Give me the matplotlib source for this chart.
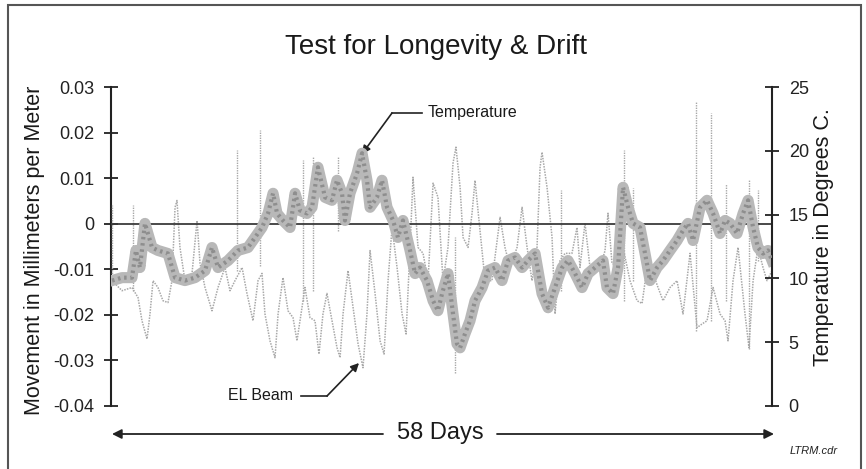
import matplotlib
matplotlib.use("Agg")
import matplotlib.pyplot as plt
from matplotlib.patches import Rectangle

# ---------------- data ----------------
temp_days = [0.09, 0.97, 1.84, 2.19, 2.54, 2.98, 3.60, 4.12, 5.00, 5.62, 6.49, 7.37, 8.25, 8.86,
             9.39, 10.27, 11.14, 12.02, 12.64, 13.25, 13.78, 14.22, 14.57, 15.09, 15.71, 16.15,
             16.58, 17.20, 17.64, 18.16, 18.78, 19.39, 19.83, 20.27, 20.53, 20.97, 21.59, 22.03,
             22.46, 22.73, 23.34, 23.78, 24.22, 24.75, 25.18, 25.62, 26.24, 26.68, 27.11, 27.73,
             28.26, 28.69, 29.05, 29.57, 30.01, 30.36, 30.63, 31.06, 31.50, 31.94, 32.56, 33.08,
             33.70, 34.31, 34.84, 35.45, 36.07, 36.59, 37.21, 37.82, 38.35, 38.96, 39.58, 40.10,
             40.72, 41.33, 41.86, 42.47, 43.17, 43.52, 44.05, 44.49, 44.93, 45.37, 45.81, 46.42,
             46.86, 47.30, 47.91, 48.44, 49.05, 49.67, 50.19, 50.63, 51.07, 51.69, 52.30, 52.83,
             53.44, 53.88, 54.32, 54.93, 55.46, 55.90, 56.34, 56.77, 57.21, 57.65, 58.00]
temp_vals = [9.83, 10.06, 10.06, 12.19, 10.85, 14.31, 12.42, 12.19, 11.95, 10.06, 9.83, 10.06, 10.61, 12.42,
             10.85, 11.40, 12.19, 12.42, 13.21, 13.99, 15.09, 16.67, 15.09, 14.54, 13.99, 16.67,
             15.33, 15.09, 15.57, 18.71, 16.35, 16.12, 17.69, 16.67, 14.54, 16.67, 18.24, 19.81,
             17.69, 15.57, 16.35, 17.69, 15.57, 14.54, 13.21, 14.54, 12.19, 10.38, 10.85, 9.83,
             8.25, 7.47, 8.81, 10.38, 7.23, 4.87, 4.56, 5.66, 6.68, 8.25, 9.28, 10.61,
             10.85, 9.83, 11.40, 11.64, 10.85, 11.40, 11.95, 8.81, 7.70, 9.28, 10.85, 11.40,
             10.38, 9.28, 10.38, 10.85, 11.40, 9.28, 8.81, 10.85, 17.14, 15.57, 14.31, 13.99,
             11.95, 9.83, 10.85, 11.40, 12.19, 12.97, 13.76, 14.31, 12.97, 15.57, 16.12, 15.09,
             13.52, 14.54, 14.31, 13.52, 15.09, 16.12, 13.99, 12.42, 11.95, 12.19, 11.40]

beam_days = [0.09, 0.97, 1.84, 2.37, 2.72, 3.16, 3.42, 3.69, 4.12, 4.56, 5.00, 5.35, 5.62, 5.79,
             6.05, 6.49, 7.11, 7.55, 7.81, 8.25, 8.86, 9.39, 10.00, 10.44, 10.88, 11.50, 11.93,
             12.46, 12.90, 13.25, 13.51, 13.95, 14.39, 14.66, 15.09, 15.53, 15.97, 16.32, 16.76,
             17.02, 17.46, 17.90, 18.25, 18.60, 18.95, 19.39, 19.83, 20.10, 20.36, 20.80, 21.24,
             21.68, 22.11, 22.46, 22.73, 23.17, 23.61, 23.96, 24.31, 24.66, 25.10, 25.54, 25.89,
             26.24, 26.50, 26.94, 27.38, 27.82, 28.26, 28.69, 29.13, 29.57, 30.01, 30.27, 30.63,
             30.89, 31.33, 31.68, 31.94, 32.38, 32.82, 33.43, 34.14, 34.57, 35.01, 35.63, 36.07,
             36.51, 36.94, 37.38, 37.65, 37.82, 38.26, 38.70, 38.96, 39.40, 39.84, 40.45, 40.89,
             41.15, 41.59, 42.03, 42.47, 42.91, 43.35, 43.61, 43.96, 44.40, 44.93, 45.54, 46.16,
             46.60, 47.04, 47.56, 48.00, 48.44, 49.05, 49.67, 50.19, 50.81, 51.42, 51.86, 52.30,
             52.83, 53.44, 53.88, 54.14, 54.58, 55.02, 55.63, 55.98, 56.34, 56.77, 57.21, 57.56, 58.00]
beam_vals = [-0.0125, -0.0147, -0.0140, -0.0162, -0.0213, -0.0253, -0.0198, -0.0125, -0.0140, -0.0169,
             -0.0173, -0.0125, 0.0036, 0.0051, -0.0052, -0.0125, -0.0109, 0.0007, -0.0087, -0.0140,
             -0.0191, -0.0140, -0.0096, -0.0147, -0.0125, -0.0096, -0.0153, -0.0213, -0.0125, -0.0109,
             -0.0198, -0.0257, -0.0294, -0.0198, -0.0118, -0.0191, -0.0206, -0.0257, -0.0184, -0.0140,
             -0.0206, -0.0213, -0.0286, -0.0198, -0.0153, -0.0213, -0.0272, -0.0294, -0.0198, -0.0103,
             -0.0184, -0.0264, -0.0316, -0.0198, -0.0059, -0.0153, -0.0257, -0.0286, -0.0125, -0.0008,
             -0.0096, -0.0198, -0.0242, -0.0052, 0.0102, -0.0052, -0.0065, -0.0125, 0.0089, 0.0058,
             -0.0125, -0.0052, 0.0133, 0.0168, 0.0080, -0.0030, -0.0052, 0.0023, 0.0095, -0.0015,
             -0.0125, -0.0125, 0.0014, -0.0052, -0.0096, -0.0052, 0.0036, -0.0052, -0.0125, -0.0052,
             0.0124, 0.0157, 0.0080, -0.0030, -0.0198, -0.0081, -0.0065, -0.0065, -0.0008, -0.0096,
             0.0001, -0.0096, -0.0096, -0.0096, -0.0059, 0.0023, -0.0087, -0.0092, -0.0052, -0.0125,
             -0.0169, -0.0175, -0.0096, -0.0109, -0.0140, -0.0169, -0.0140, -0.0125, -0.0198, -0.0065,
             -0.0228, -0.0220, -0.0213, -0.0140, -0.0198, -0.0213, -0.0257, -0.0125, -0.0052, -0.0198,
             -0.0272, -0.0125, -0.0052, -0.0096, -0.0125, -0.0103]

spike_days = [0.09, 1.93, 11.06, 13.07, 16.85, 17.73, 19.92, 30.19, 39.49, 45.02, 45.81, 51.33, 52.65,
              53.97, 55.98, 56.77]
spike_lo = [-0.0125, -0.0147, -0.0103, -0.0092, -0.0169, -0.0147, -0.0015, -0.0327, -0.0147, -0.0169,
            -0.0125, -0.0235, -0.0213, -0.0169, -0.0275, -0.0081]
spike_hi = [0.0040, 0.0040, 0.0161, 0.0205, 0.0139, 0.0146, 0.0146, -0.0030, 0.0073, 0.0161, 0.0078,
            0.0267, 0.0243, 0.0088, 0.0095, 0.0073]

left_ticks = [0.03, 0.02, 0.01, 0.0, -0.01, -0.02, -0.03, -0.04]
left_labels = ["0.03", "0.02", "0.01", "0", "-0.01", "-0.02", "-0.03", "-0.04"]
right_ticks = [25, 20, 15, 10, 5, 0]
right_labels = ["25", "20", "15", "10", "5", "0"]

# ---------------- figure ----------------
W, H = 866, 469
fig = plt.figure(figsize=(W / 100, H / 100), dpi=100)
fig.patch.set_facecolor("white")

narrow = ["Liberation Sans Narrow", "Liberation Sans", "DejaVu Sans"]
sans = ["Liberation Sans", "DejaVu Sans"]

ax_l, ax_r, ax_t, ax_b = 111, 772, 87, 406
ax = fig.add_axes([ax_l / W, 1 - ax_b / H, (ax_r - ax_l) / W, (ax_b - ax_t) / H])
ax.patch.set_alpha(0)
ax2 = ax.twinx()

ax.set_xlim(0, 58)
ax.set_ylim(-0.04, 0.03)
ax2.set_ylim(0, 25)

# series
ax2.plot(temp_days, temp_vals, color="#b8b8b8", lw=8, solid_joinstyle="round", zorder=2)
ax2.plot(temp_days, temp_vals, color="#8e8e8e", lw=3, ls=(0, (0.6, 0.9)), zorder=3)
ax.plot(beam_days, beam_vals, color="#a8a8a8", lw=1.1, ls=(0, (1, 0.8)), zorder=3)
ax.vlines(spike_days, spike_lo, spike_hi, color="#a8a8a8", lw=1.0, linestyles=(0, (1, 0.8)), zorder=3)
ax.axhline(0, color="#3a3a3a", lw=1.3, zorder=4)

# spines
for a in (ax, ax2):
    for s in ("top", "bottom"):
        a.spines[s].set_visible(False)
ax.spines["right"].set_visible(False)
ax2.spines["left"].set_visible(False)
ax.spines["left"].set_linewidth(1.5)
ax.spines["left"].set_color("#222222")
ax2.spines["right"].set_linewidth(1.5)
ax2.spines["right"].set_color("#222222")

ax.set_xticks([])
ax.set_yticks(left_ticks)
ax.set_yticklabels(left_labels, family=narrow, fontsize=13, color="#222222")
ax.tick_params(axis="y", direction="inout", length=10, width=1.3, color="#222222", pad=7)
ax2.set_yticks(right_ticks)
ax2.set_yticklabels(right_labels, family=narrow, fontsize=13, color="#222222")
ax2.tick_params(axis="y", direction="inout", length=10, width=1.3, color="#222222", pad=7)

# labels
fig.text(35 / W, 1 - 250 / H, "Movement in Millimeters per Meter", rotation=90,
         ha="center", va="center", fontsize=15.5, family=sans, color="#1a1a1a")
fig.text(824 / W, 1 - 237 / H, "Temperature in Degrees C.", rotation=90,
         ha="center", va="center", fontsize=15.5, family=sans, color="#1a1a1a")
fig.text(436 / W, 1 - 47 / H, "Test for Longevity & Drift", ha="center", va="center",
         fontsize=20, family=sans, color="#1a1a1a")

# annotations
fig.text(428 / W, 1 - 112 / H, "Temperature", ha="left", va="center", fontsize=11.5,
         family=sans, color="#1a1a1a")
fig.add_artist(plt.Line2D([392 / W, 422 / W], [1 - 113 / H, 1 - 113 / H], color="#222", lw=1.2))
ax.annotate("", xy=(362, H - 154), xycoords="figure pixels", xytext=(392, H - 113),
            textcoords="figure pixels",
            arrowprops=dict(arrowstyle="-|>", color="#222", lw=1.2, mutation_scale=12,
                            shrinkA=0, shrinkB=0))

fig.text(228 / W, 1 - 396 / H, "EL Beam", ha="left", va="center", fontsize=11.5,
         family=sans, color="#1a1a1a")
fig.add_artist(plt.Line2D([301 / W, 327 / W], [1 - 396 / H, 1 - 396 / H], color="#222", lw=1.2))
ax.annotate("", xy=(359, H - 363), xycoords="figure pixels", xytext=(327, H - 396),
            textcoords="figure pixels",
            arrowprops=dict(arrowstyle="-|>", color="#222", lw=1.2, mutation_scale=12,
                            shrinkA=0, shrinkB=0))

# 58 days arrow
fig.text(440 / W, 1 - 433 / H, "58 Days", ha="center", va="center", fontsize=17,
         family=sans, color="#1a1a1a")
ax.annotate("", xy=(112, H - 434), xycoords="figure pixels", xytext=(383, H - 434),
            textcoords="figure pixels",
            arrowprops=dict(arrowstyle="-|>", color="#222", lw=1.3, mutation_scale=14,
                            shrinkA=0, shrinkB=0))
ax.annotate("", xy=(774, H - 434), xycoords="figure pixels", xytext=(497, H - 434),
            textcoords="figure pixels",
            arrowprops=dict(arrowstyle="-|>", color="#222", lw=1.3, mutation_scale=14,
                            shrinkA=0, shrinkB=0))

fig.text(838 / W, 1 - 451 / H, "LTRM.cdr", ha="right", va="center", fontsize=8,
         style="italic", family=sans, color="#222")

# frame border
fig.add_artist(Rectangle((8 / W, -0.05), (861 - 8) / W, 1.05 - 5 / H,
                         transform=fig.transFigure, fill=False, ec="#555555", lw=1.5))

fig.savefig("out.png", dpi=100)
